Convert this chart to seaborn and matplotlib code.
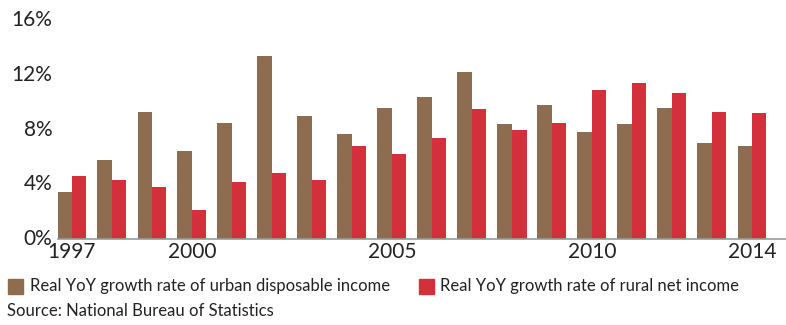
import matplotlib
matplotlib.use("Agg")
import matplotlib.pyplot as plt
import seaborn as sns
import pandas as pd
from matplotlib.patches import Rectangle

years = list(range(1997, 2015))
urban = [3.4, 5.8, 9.3, 6.4, 8.5, 13.4, 9.0, 7.7, 9.6, 10.4, 12.2, 8.4, 9.8, 7.8, 8.4, 9.6, 7.0, 6.8]
rural = [4.6, 4.3, 3.8, 2.1, 4.2, 4.8, 4.3, 6.8, 6.2, 7.4, 9.5, 8.0, 8.5, 10.9, 11.4, 10.7, 9.3, 9.2]
series_names = ["Real YoY growth rate of urban disposable income",
                "Real YoY growth rate of rural net income"]
shown_years = [1997, 2000, 2005, 2010, 2014]
y_ticks = [0, 4, 8, 12, 16]
source_text = "Source: National Bureau of Statistics"

colors = ["#8D6C4F", "#D4303C"]

sns.set_theme(style="white")
plt.rcParams["font.family"] = ["Lato", "DejaVu Sans"]

df = pd.DataFrame({
    "year": [str(y) for y in years] * 2,
    "value": urban + rural,
    "series": [series_names[0]] * len(years) + [series_names[1]] * len(years),
})

fig = plt.figure(figsize=(7.86, 3.25), dpi=100)
ax = fig.add_axes([58 / 786, 86 / 325, 728 / 786, 219 / 325])

sns.barplot(data=df, x="year", y="value", hue="series", palette=colors,
            width=0.725, ax=ax, legend=False, saturation=1, edgecolor="none")

ax.set_xlim(-0.35, 17.85)
ax.set_ylim(0, 16)
ax.set_yticks(y_ticks)
ax.set_yticklabels([f"{v}%" for v in y_ticks], fontsize=15, color="#222222")
pos = [years.index(y) for y in shown_years]
ax.set_xticks(pos)
ax.set_xticklabels([str(y) for y in shown_years], fontsize=15, color="#222222")
ax.tick_params(axis="both", length=0, pad=2)
ax.tick_params(axis="y", pad=4)
ax.set_xlabel("")
ax.set_ylabel("")
for s in ["top", "right", "left"]:
    ax.spines[s].set_visible(False)
ax.spines["bottom"].set_color("#999999")
ax.spines["bottom"].set_linewidth(1.2)
for lab in ax.get_yticklabels():
    lab.set_verticalalignment("center")

# legend row
fig.patches.append(Rectangle((8 / 786, 1 - 294 / 325), 15 / 786, 15 / 325,
                             transform=fig.transFigure, color=colors[0]))
fig.text(30 / 786, 1 - 286 / 325, series_names[0], fontsize=12, va="center",
         ha="left", color="#222222")
fig.patches.append(Rectangle((419 / 786, 1 - 294 / 325), 15 / 786, 15 / 325,
                             transform=fig.transFigure, color=colors[1]))
fig.text(440 / 786, 1 - 286 / 325, series_names[1], fontsize=12, va="center",
         ha="left", color="#222222")
fig.text(7 / 786, 1 - 311 / 325, source_text, fontsize=12, va="center",
         ha="left", color="#222222")

fig.savefig("out.png", dpi=100)
